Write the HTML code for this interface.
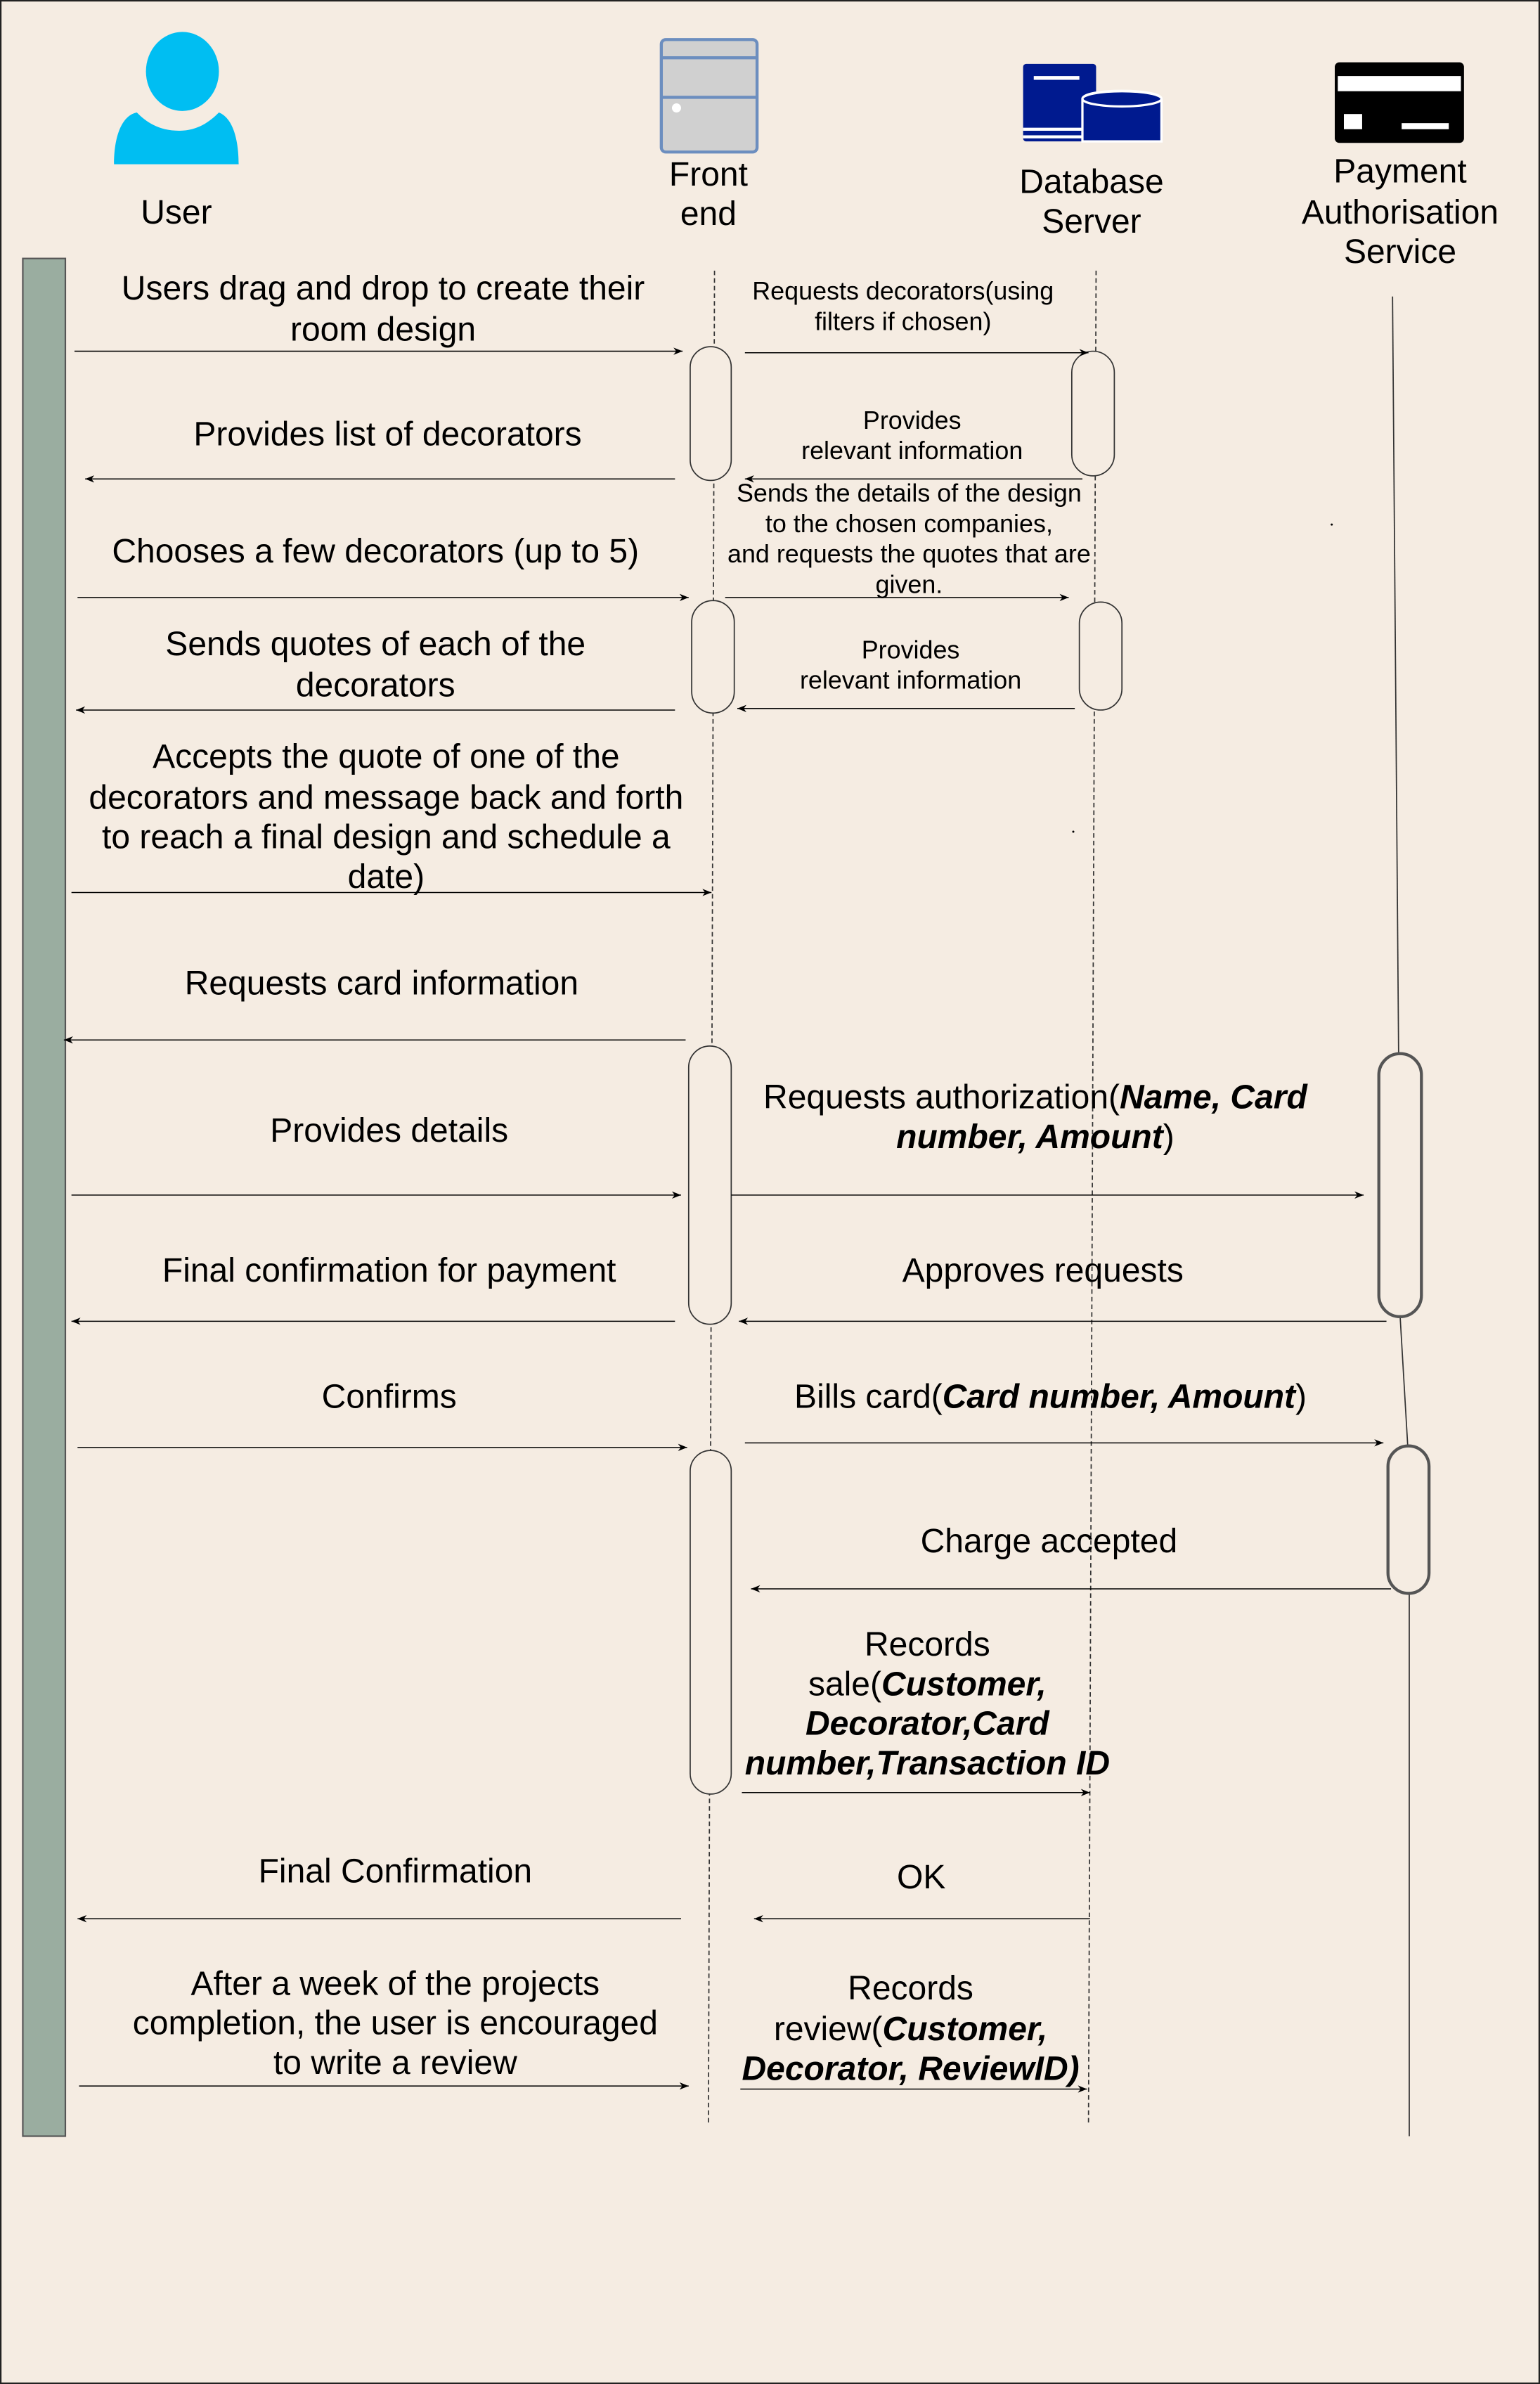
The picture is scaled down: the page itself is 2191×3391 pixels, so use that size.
<!DOCTYPE html>
<html><head><meta charset="utf-8"><style>
html,body{margin:0;padding:0;background:#f5ece2;}
svg{display:block;}
text{font-family:"Liberation Sans",Arial,sans-serif;fill:#000;}
</style></head><body>
<svg width="2191" height="3391" viewBox="0 0 1013 1568" preserveAspectRatio="none" xmlns="http://www.w3.org/2000/svg">
<defs>
<marker id="a" viewBox="0 0 10 10" refX="10" refY="5" markerWidth="6" markerHeight="6" orient="auto-start-reverse" markerUnits="userSpaceOnUse"><path d="M0,1 L10,5 L0,9 L3,5 Z" fill="#000"/></marker>
</defs>
<rect x="0.5" y="0.5" width="1012" height="1567" fill="#f5ece2" stroke="#222" stroke-width="1"/>

<!-- User icon -->
<ellipse cx="120" cy="47" rx="24" ry="26" fill="#00bef2"/>
<path d="M75,108 C75,90 80,76 90,74 C96,80 104,86 118,86 C130,86 138,80 144,74 C154,78 157,94 157,108 Z" fill="#00bef2"/>
<text x="116" y="147" font-size="22.2" text-anchor="middle">User</text>

<!-- Frontend icon -->
<rect x="435" y="26" width="63" height="74" rx="3" fill="#d0d0d0" stroke="#6c8ebf" stroke-width="2"/>
<line x1="435" y1="38" x2="498" y2="38" stroke="#6c8ebf" stroke-width="2"/>
<line x1="435" y1="64" x2="498" y2="64" stroke="#6c8ebf" stroke-width="2"/>
<circle cx="445" cy="71" r="3" fill="#fff"/>
<text x="466" y="122" font-size="22.2" text-anchor="middle">Front</text>
<text x="466" y="148" font-size="22.2" text-anchor="middle">end</text>

<!-- Database icon -->
<rect x="673" y="42" width="48" height="51" rx="2" fill="#001a8f"/>
<rect x="680" y="50" width="30" height="2.5" fill="#fff"/>
<rect x="673" y="84" width="40" height="2" fill="#fff"/>
<rect x="673" y="89" width="40" height="2" fill="#fff"/>
<path d="M712,65 C712,58 764,58 764,65 L764,93 L712,93 Z" fill="#001a8f" stroke="#fff" stroke-width="1.5"/>
<ellipse cx="738" cy="65" rx="26" ry="5" fill="#001a8f" stroke="#fff" stroke-width="1.5"/>
<text x="718" y="127" font-size="22.2" text-anchor="middle">Database</text>
<text x="718" y="153" font-size="22.2" text-anchor="middle">Server</text>

<!-- Payment icon -->
<rect x="878" y="41" width="85" height="53" rx="3" fill="#000"/>
<rect x="880" y="50" width="81" height="10" fill="#fff"/>
<rect x="884" y="75" width="12" height="10" fill="#fff"/>
<rect x="922" y="81" width="31" height="4" fill="#fff"/>
<text x="921" y="120" font-size="22.2" text-anchor="middle">Payment</text>
<text x="921" y="147" font-size="22.2" text-anchor="middle">Authorisation</text>
<text x="921" y="173" font-size="22.2" text-anchor="middle">Service</text>

<!-- User bar -->
<rect x="15" y="170" width="28" height="1235" fill="#9aada0" stroke="#555" stroke-width="1"/>

<!-- lifelines -->
<line x1="470" y1="178" x2="466" y2="1397" stroke="#333" stroke-width="0.8" stroke-dasharray="3,2"/>
<line x1="721" y1="178" x2="716" y2="1397" stroke="#333" stroke-width="0.8" stroke-dasharray="3,2"/>
<line x1="916" y1="195" x2="920" y2="693" stroke="#333" stroke-width="0.8"/>
<line x1="921" y1="866" x2="926" y2="951" stroke="#333" stroke-width="0.8"/>
<line x1="927" y1="1048" x2="927" y2="1405" stroke="#333" stroke-width="0.8"/>

<!-- activations -->
<g fill="#f5ece2" stroke="#333" stroke-width="0.8">
<rect x="454" y="228" width="27" height="88" rx="13.5"/>
<rect x="705" y="231" width="28" height="82" rx="14"/>
<rect x="455" y="395" width="28" height="74" rx="14"/>
<rect x="710" y="396" width="28" height="71" rx="14"/>
<rect x="453" y="688" width="28" height="183" rx="14"/>
<rect x="454" y="954" width="27" height="226" rx="13.5"/>
</g>
<g fill="#f5ece2" stroke="#555" stroke-width="2">
<rect x="907" y="693" width="28" height="173" rx="14"/>
<rect x="913" y="951" width="27" height="97" rx="13.5"/>
</g>

<!-- arrows -->
<g stroke="#000" stroke-width="0.7" marker-end="url(#a)">
<line x1="49" y1="231" x2="449" y2="231"/>
<line x1="490" y1="232" x2="716" y2="232"/>
<line x1="444" y1="315" x2="56" y2="315"/>
<line x1="712" y1="315" x2="490" y2="315"/>
<line x1="51" y1="393" x2="453" y2="393"/>
<line x1="477" y1="393" x2="703" y2="393"/>
<line x1="444" y1="467" x2="50" y2="467"/>
<line x1="707" y1="466" x2="485" y2="466"/>
<line x1="47" y1="587" x2="468" y2="587"/>
<line x1="451" y1="684" x2="42" y2="684"/>
<line x1="47" y1="786" x2="448" y2="786"/>
<line x1="481" y1="786" x2="897" y2="786"/>
<line x1="444" y1="869" x2="47" y2="869"/>
<line x1="912" y1="869" x2="486" y2="869"/>
<line x1="51" y1="952" x2="452" y2="952"/>
<line x1="490" y1="949" x2="910" y2="949"/>
<line x1="915" y1="1045" x2="494" y2="1045"/>
<line x1="488" y1="1179" x2="717" y2="1179"/>
<line x1="448" y1="1262" x2="51" y2="1262"/>
<line x1="717" y1="1262" x2="496" y2="1262"/>
<line x1="52" y1="1372" x2="453" y2="1372"/>
<line x1="487" y1="1374" x2="715" y2="1374"/>
</g>
<circle cx="876" cy="345" r="0.7" fill="#000"/>
<circle cx="706" cy="547" r="0.7" fill="#000"/>

<!-- labels -->
<g font-size="22.2" text-anchor="middle">
<text x="252" y="197">Users drag and drop to create their</text>
<text x="252" y="224">room design</text>
<text x="255" y="293">Provides list of decorators</text>
<text x="247" y="370">Chooses a few decorators (up to 5)</text>
<text x="247" y="431">Sends quotes of each of the</text>
<text x="247" y="458">decorators</text>
<text x="254" y="505">Accepts the quote of one of the</text>
<text x="254" y="532">decorators and message back and forth</text>
<text x="254" y="558">to reach a final design and schedule a</text>
<text x="254" y="584">date)</text>
<text x="251" y="654">Requests card information</text>
<text x="256" y="751">Provides details</text>
<text x="681" y="729">Requests authorization(<tspan font-weight="bold" font-style="italic">Name, Card</tspan></text>
<text x="681" y="755"><tspan font-weight="bold" font-style="italic">number, Amount</tspan>)</text>
<text x="256" y="843">Final confirmation for payment</text>
<text x="686" y="843">Approves requests</text>
<text x="256" y="926">Confirms</text>
<text x="691" y="926">Bills card(<tspan font-weight="bold" font-style="italic">Card number, Amount</tspan>)</text>
<text x="690" y="1021">Charge accepted</text>
<text x="610" y="1089">Records</text>
<text x="610" y="1115">sale(<tspan font-weight="bold" font-style="italic">Customer,</tspan></text>
<text x="610" y="1141" font-weight="bold" font-style="italic">Decorator,Card</text>
<text x="610" y="1167" font-weight="bold" font-style="italic">number,Transaction ID</text>
<text x="260" y="1238">Final Confirmation</text>
<text x="606" y="1242">OK</text>
<text x="260" y="1312">After a week of the projects</text>
<text x="260" y="1338">completion, the user is encouraged</text>
<text x="260" y="1364">to write a review</text>
<text x="599" y="1315">Records</text>
<text x="599" y="1342">review(<tspan font-weight="bold" font-style="italic">Customer,</tspan></text>
<text x="599" y="1368" font-weight="bold" font-style="italic">Decorator, ReviewID)</text>
</g>
<g font-size="16.6" text-anchor="middle">
<text x="594" y="197">Requests decorators(using</text>
<text x="594" y="217">filters if chosen)</text>
<text x="600" y="282">Provides</text>
<text x="600" y="302">relevant information</text>
<text x="598" y="330">Sends the details of the design</text>
<text x="598" y="350">to the chosen companies,</text>
<text x="598" y="370">and requests the quotes that are</text>
<text x="598" y="390">given.</text>
<text x="599" y="433">Provides</text>
<text x="599" y="453">relevant information</text>
</g>
</svg>
</body></html>
